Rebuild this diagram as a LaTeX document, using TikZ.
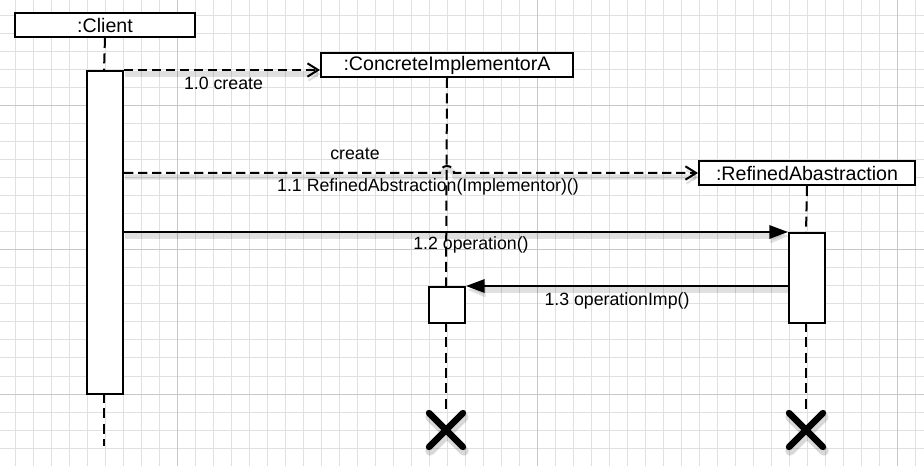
\documentclass[tikz,border=0pt]{standalone}
\usepackage{fontspec}
\setmainfont{Liberation Sans}
\usetikzlibrary{arrows.meta,calc}
\begin{document}
\begin{tikzpicture}[x=0.75pt,y=-0.75pt,
 gridminor/.style={draw=black!12, line width=0.75pt},
 gridmajor/.style={draw=black!22, line width=0.75pt},
 objbox/.style={draw, fill=white, line width=1.5pt, inner sep=0pt, minimum height=18pt, anchor=north west, font=\fontsize{14.7}{16}\selectfont},
 actbox/.style={draw, fill=white, line width=1.5pt, inner sep=0pt, minimum width=27pt, anchor=north west},
 lifeline/.style={draw, line width=1.5pt, dash pattern=on 7.5pt off 4pt},
 msglabel/.style={font=\fontsize{13.3}{15}\selectfont, anchor=base, inner sep=0pt},
 shad/.style={preaction={draw=black, solid, opacity=0.12, line width=4pt, transform canvas={shift={(1,4)}}}},
 createmsg/.style={shad, line width=1.5pt, dash pattern=on 7pt off 3.5pt, -{Straight Barb[length=8pt,width=10pt,line width=1.5pt]}},
 callmsg/.style={shad, line width=1.5pt, -{Triangle[length=14pt,width=10pt]}},
 destroy/.style={preaction={draw=black, opacity=0.15, line width=7pt, line cap=round, transform canvas={shift={(1,4)}}}, line width=4.8pt, line cap=round}
]
\useasboundingbox (0,0) rectangle (924,466);
% grid
\foreach \gx in {15,33,...,915} \draw[gridminor] (\gx,0) -- (\gx,466);
\foreach \gy in {16,34,...,466} \draw[gridminor] (0,\gy) -- (924,\gy);
\foreach \gx in {177,537,897} \draw[gridmajor] (\gx,0) -- (\gx,466);
\foreach \gy in {106,250,394} \draw[gridmajor] (0,\gy) -- (924,\gy);

% objects
\node[objbox, minimum width=135pt] (client) at (14,12) {:Client};
\node[objbox, minimum width=189pt] (cia) at (320,52) {:ConcreteImplementorA};
\node[objbox, minimum width=162pt] (ra) at (698,160) {:RefinedAbastraction};

% end points
\coordinate (endC) at (104,446);
\coordinate (xI) at (446,430);
\coordinate (xR) at (806,430);

% lifelines
\draw[lifeline] (client.south) -- (104,70);
\draw[lifeline] (104,393) -- (endC);
\draw[lifeline] (cia.south) -- (446,286);
\draw[lifeline] (446,322) -- ($(xI)+(0,-20)$);
\draw[lifeline] (ra.south) -- (806,232);
\draw[lifeline] (806,322) -- ($(xR)+(0,-20)$);

% activations
\node[actbox, minimum height=242.25pt] (actC) at (86,70) {};
\node[actbox, minimum height=27pt] (actI) at (428,286) {};
\node[actbox, minimum height=67.5pt] (actR) at (788,232) {};

% destroy marks
\draw[destroy] ($(xI)+(-17,-17)$) -- ($(xI)+(17,17)$) ($(xI)+(-17,17)$) -- ($(xI)+(17,-17)$);
\draw[destroy] ($(xR)+(-17,-17)$) -- ($(xR)+(17,17)$) ($(xR)+(-17,17)$) -- ($(xR)+(17,-17)$);

% messages
\draw[createmsg] (actC.north east) -- (actC.north east -| cia.west);
\draw[createmsg] (ra.west -| actC.east) -- ($(ra.west -| cia.south)+(-7,0)$) arc[start angle=180,end angle=0,radius=5.25pt] -- (ra.west);
\draw[callmsg] (actR.north west -| actC.east) -- (actR.north west);
\draw[callmsg] (actI.north -| actR.west) -- (actI.north east);

% labels
\node[msglabel] (l10) at (223.5,90) {1.0 create};
\node[msglabel] (lcr) at (355,160) {create};
\node[msglabel] (l11) at (428,192) {1.1 RefinedAbstraction(Implementor)()};
\node[msglabel] (l12) at (471,250) {1.2 operation()};
\node[msglabel] (l13) at (617,306) {1.3 operationImp()};
\end{tikzpicture}
\end{document}
